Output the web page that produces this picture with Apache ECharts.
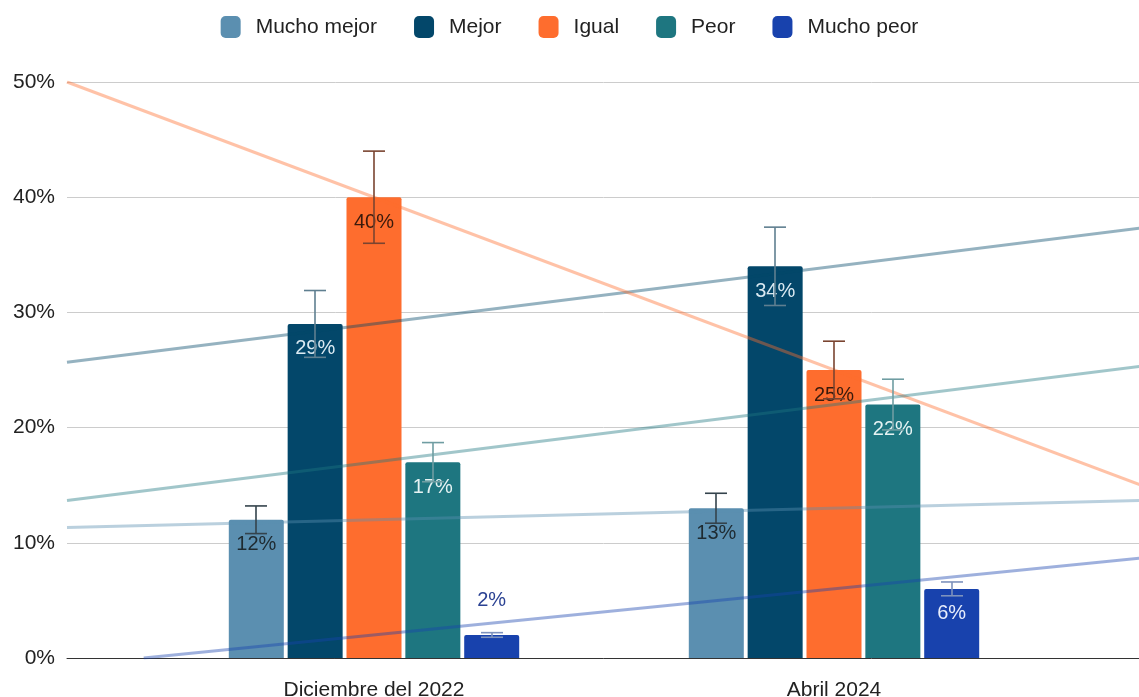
<!DOCTYPE html>
<html>
<head>
<meta charset="utf-8">
<script src="https://cdn.jsdelivr.net/npm/echarts@6/dist/echarts.min.js"></script>
<style>
  html, body { margin: 0; padding: 0; background: #fff; }
  #chart { width: 1139px; height: 697px; }
</style>
</head>
<body>
<div id="chart"></div>
<script>
const categories = ['Diciembre del 2022', 'Abril 2024']
const seriesNames = ['Mucho mejor', 'Mejor', 'Igual', 'Peor', 'Mucho peor']
const muchoMejor = [12, 13]
const mejor = [29, 34]
const igual = [40, 25]
const peor = [17, 22]
const muchoPeor = [2, 6]
const errorShare = 0.1 // error bars: 10% of the value
const yTicks = [0, 10, 20, 30, 40, 50]

const allValues = [muchoMejor, mejor, igual, peor, muchoPeor]
const colors = ['#5b8fb0', '#03476a', '#fe6d2e', '#1e7680', '#1842ad']
const errColors = ['#34434c', '#5f7f90', '#7a4430', '#6f9da2', '#7d92bd']
const labelColors = ['#1e2a30', '#dbeaf2', '#3a1a0c', '#e6f3f3', '#e8eefc']

const font = 'Liberation Sans'
const barWidth = 55
const barStep = 59
const trendMin = 1 / 3
const trendMax = 8 / 3

const chart = echarts.init(document.getElementById('chart'))

const series = []
allValues.forEach((vals, i) => {
  series.push({
    name: seriesNames[i],
    type: 'bar',
    xAxisIndex: 0,
    yAxisIndex: 0,
    data: vals.map(v => ({
      value: v,
      label: v < 5
        ? { position: 'top', distance: 24, color: '#2b4293' }
        : {}
    })),
    barWidth: barWidth,
    barGap: '7%',
    itemStyle: { color: colors[i], borderRadius: [2, 2, 0, 0] },
    label: {
      show: true,
      position: 'insideTop',
      distance: 15,
      formatter: '{c}%',
      fontFamily: font,
      fontSize: 20,
      color: labelColors[i]
    },
    z: 2
  })
})

// error bars
allValues.forEach((vals, i) => {
  series.push({
    type: 'custom',
    xAxisIndex: 0,
    yAxisIndex: 0,
    data: vals.map((v, c) => [c, v * (1 - errorShare), v * (1 + errorShare)]),
    renderItem: function (params, api) {
      const off = (i - 2) * barStep
      const lo = api.coord([api.value(0), api.value(1)])
      const hi = api.coord([api.value(0), api.value(2)])
      const x = lo[0] + off
      const hw = 11
      const style = { stroke: errColors[i], lineWidth: 1.6 }
      return {
        type: 'group',
        children: [
          { type: 'line', shape: { x1: x, y1: lo[1], x2: x, y2: hi[1] }, style },
          { type: 'line', shape: { x1: x - hw, y1: hi[1], x2: x + hw, y2: hi[1] }, style },
          { type: 'line', shape: { x1: x - hw, y1: lo[1], x2: x + hw, y2: lo[1] }, style }
        ]
      }
    },
    z: 4,
    silent: true
  })
})

// linear trendlines, fitted through the two points (x = 1, 2), cut at 0%
allValues.forEach((vals, i) => {
  const slope = vals[1] - vals[0]
  const at = x => vals[0] + slope * (x - 1)
  let x0 = trendMin
  if (at(x0) < 0) x0 = 1 - vals[0] / slope
  series.push({
    type: 'line',
    xAxisIndex: 1,
    yAxisIndex: 1,
    data: [[x0, at(x0)], [trendMax, at(trendMax)]],
    symbol: 'none',
    clip: true,
    lineStyle: { color: colors[i], width: 3, opacity: 0.42 },
    silent: true,
    z: 3
  })
})

const option = {
  animation: false,
  textStyle: { fontFamily: font },
  color: colors,
  legend: {
    data: seriesNames,
    top: 11,
    left: 'center',
    icon: 'roundRect',
    itemWidth: 20,
    itemHeight: 22,
    itemGap: 37,
    textStyle: { fontSize: 21, color: '#222', fontFamily: font, padding: [0, 0, 0, 10] }
  },
  grid: [
    { left: 144, right: 75, top: 82, bottom: 39, outerBoundsMode: 'none' },
    { left: 67, right: -2, top: 82, bottom: 39, outerBoundsMode: 'none' }
  ],
  xAxis: [
    {
      type: 'category',
      gridIndex: 0,
      data: categories,
      axisTick: { show: false },
      axisLine: { show: false },
      axisLabel: { fontSize: 21, color: '#222', margin: 22, fontFamily: font }
    },
    {
      type: 'value',
      gridIndex: 1,
      min: trendMin,
      max: trendMax,
      show: true,
      axisLabel: { show: false },
      axisTick: { show: false },
      splitLine: { show: false },
      axisLine: { show: true, lineStyle: { color: '#333', width: 1 } }
    }
  ],
  yAxis: [
    {
      type: 'value',
      gridIndex: 0,
      min: 0,
      max: 50,
      interval: 10,
      show: false
    },
    {
      type: 'value',
      gridIndex: 1,
      min: yTicks[0],
      max: yTicks[yTicks.length - 1],
      interval: 10,
      axisLine: { show: false },
      axisTick: { show: false },
      axisLabel: { formatter: '{value}%', fontSize: 21, color: '#222', margin: 12, fontFamily: font },
      splitLine: { lineStyle: { color: '#cccccc', width: 1 } }
    }
  ],
  series: series
}

chart.setOption(option)
</script>
</body>
</html>
